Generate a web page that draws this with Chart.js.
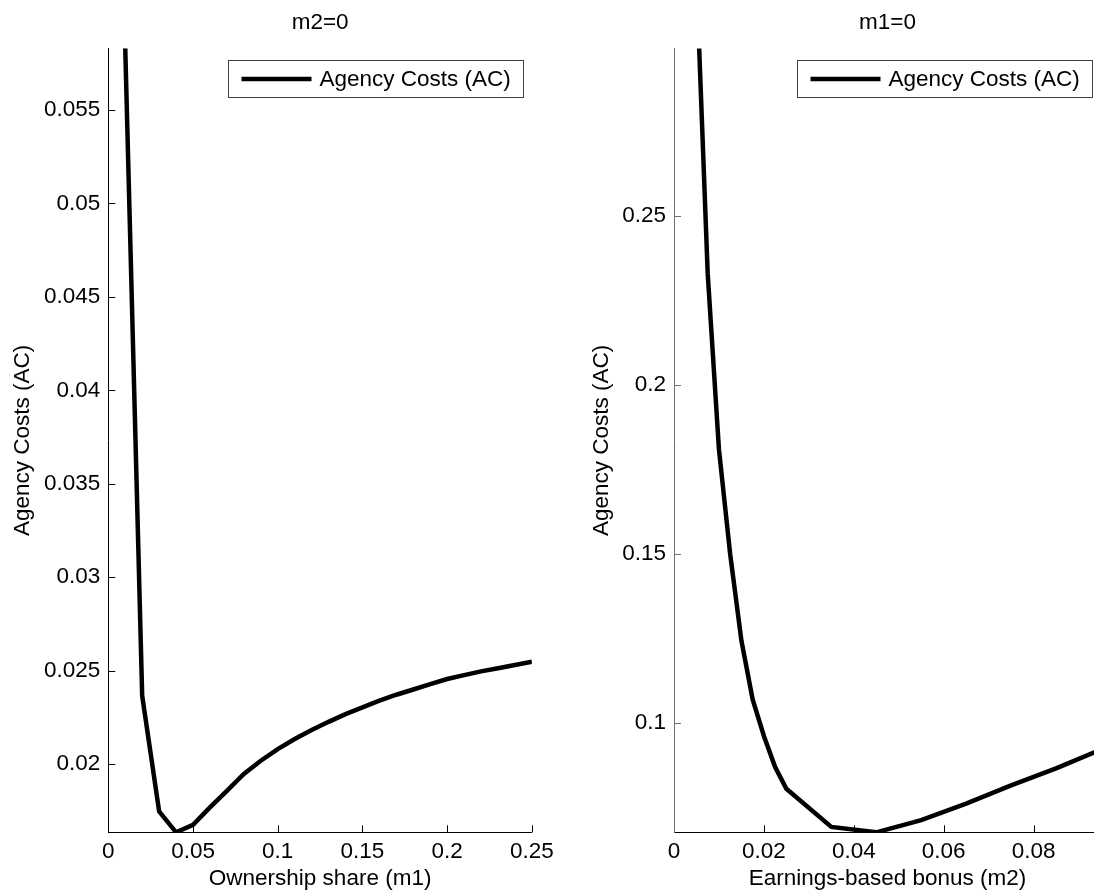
<!DOCTYPE html>
<html>
<head>
<meta charset="utf-8">
<script src="https://cdn.jsdelivr.net/npm/chart.js@4.4.1/dist/chart.umd.min.js"></script>
<style>
  html, body { margin: 0; padding: 0; background: #fff; overflow: hidden; width: 1094px; height: 894px; }
  canvas { position: absolute; top: 0; }
  #left { left: 0; }
  #right { left: 560px; }
</style>
</head>
<body>
<canvas id="left" width="560" height="894"></canvas>
<canvas id="right" width="560" height="894"></canvas>
<script>
// Left panel (m2 = 0): agency costs against ownership share m1
const M1_VALUES = [0.01, 0.02, 0.03, 0.04, 0.05, 0.06, 0.07, 0.08, 0.09, 0.10,
                   0.11, 0.12, 0.13, 0.14, 0.15, 0.16, 0.17, 0.18, 0.19, 0.20,
                   0.21, 0.22, 0.23, 0.24, 0.25];
const AC_BY_M1 = [0.0583, 0.02365, 0.01747, 0.01635, 0.01675, 0.01768, 0.01857, 0.01947, 0.02018, 0.0208,
                  0.02134, 0.02182, 0.02226, 0.02267, 0.02303, 0.02339, 0.02371, 0.02399, 0.02428, 0.02455,
                  0.02476, 0.02496, 0.02513, 0.0253, 0.02548];
const M1_TICKS = [0, 0.05, 0.1, 0.15, 0.2, 0.25];
const AC_M1_TICKS = [0.02, 0.025, 0.03, 0.035, 0.04, 0.045, 0.05, 0.055];

// Right panel (m1 = 0): agency costs against earnings-based bonus m2
const M2_VALUES = [0.0056, 0.0075, 0.01, 0.0125, 0.015, 0.0175, 0.02, 0.0225, 0.025,
                   0.035, 0.045, 0.055, 0.065, 0.075, 0.085, 0.095];
const AC_BY_M2 = [0.2997, 0.233, 0.181, 0.150, 0.1244, 0.107, 0.0962, 0.087, 0.0806,
                  0.0693, 0.0677, 0.0713, 0.0762, 0.0816, 0.0866, 0.0922];
const M2_TICKS = [0, 0.02, 0.04, 0.06, 0.08];
const AC_M2_TICKS = [0.1, 0.15, 0.2, 0.25];

const SERIES_LABEL = 'Agency Costs (AC)';
const FONT = { family: "'Liberation Sans', Arial, Helvetica, sans-serif", size: 22.5, weight: 'normal' };

Chart.defaults.font.family = FONT.family;
Chart.defaults.color = '#000';

const fmt = v => String(+Number(v).toFixed(4));

// MATLAB-style inward ticks and a boxed legend in the upper right corner
const matlabAxes = {
  id: 'matlabAxes',
  afterDatasetsDraw(chart, args, opts) {
    const { ctx, chartArea: a, scales: { x, y } } = chart;
    ctx.save();
    ctx.lineWidth = 1;

    ctx.strokeStyle = '#000';
    x.ticks.forEach(t => {
      const px = Math.round(x.getPixelForValue(t.value)) + 0.5;
      if (px - a.left < 3) return;
      ctx.beginPath();
      ctx.moveTo(px, a.bottom);
      ctx.lineTo(px, a.bottom - 7);
      ctx.stroke();
    });

    ctx.strokeStyle = opts.yColor;
    y.ticks.forEach(t => {
      const py = Math.round(y.getPixelForValue(t.value)) + 0.5;
      ctx.beginPath();
      ctx.moveTo(a.left, py);
      ctx.lineTo(a.left + 7, py);
      ctx.stroke();
    });

    // legend box
    const w = 295, h = 37;
    const bx = Math.round(a.right - 9 - w) + 0.5, by = 60.5;
    ctx.fillStyle = '#fff';
    ctx.fillRect(bx, by, w, h);
    ctx.strokeStyle = '#404040';
    ctx.strokeRect(bx, by, w, h);
    const ds = chart.data.datasets[0];
    ctx.strokeStyle = ds.borderColor;
    ctx.lineWidth = ds.borderWidth;
    ctx.beginPath();
    ctx.moveTo(bx + 13, by + h / 2);
    ctx.lineTo(bx + 83, by + h / 2);
    ctx.stroke();
    ctx.fillStyle = '#000';
    ctx.font = `${FONT.size}px ${FONT.family}`;
    ctx.textBaseline = 'middle';
    ctx.textAlign = 'left';
    ctx.fillText(ds.label, bx + 91, by + h / 2 + 1);
    ctx.restore();
  }
};

function makePanel(id, p) {
  const points = p.xs.map((v, i) => ({ x: v, y: p.ys[i] }));
  return new Chart(document.getElementById(id), {
    type: 'line',
    data: {
      datasets: [{
        label: SERIES_LABEL,
        data: points,
        borderColor: '#000',
        borderWidth: 4.5,
        pointRadius: 0,
        tension: 0,
        fill: false
      }]
    },
    options: {
      responsive: false,
      animation: false,
      events: [],
      layout: { padding: { left: 0, right: p.padRight, top: 0, bottom: 0 } },
      plugins: {
        legend: { display: false },
        tooltip: { enabled: false },
        title: {
          display: true,
          text: p.title,
          fullSize: false,
          color: '#000',
          font: FONT,
          padding: { top: 9.5, bottom: 11.8 }
        },
        matlabAxes: { yColor: p.yColor }
      },
      scales: {
        x: {
          type: 'linear',
          min: p.xMin,
          max: p.xMax,
          grid: { display: false, drawTicks: false },
          border: { display: true, color: '#000', width: 1 },
          ticks: { color: '#000', padding: 6.2, font: FONT, autoSkip: false, maxRotation: 0, callback: fmt },
          afterBuildTicks: s => { s.ticks = p.xTicks.map(v => ({ value: v })); },
          afterFit: s => { s.height = 61.7; },
          title: { display: true, text: p.xTitle, color: '#000', font: FONT, padding: { top: 0, bottom: 1.7 } }
        },
        y: {
          type: 'linear',
          min: p.yMin,
          max: p.yMax,
          grid: { display: false, drawTicks: false },
          border: { display: true, color: p.yColor, width: 1 },
          ticks: { color: '#000', padding: 8, font: FONT, autoSkip: false, callback: fmt },
          afterBuildTicks: s => { s.ticks = p.yTicks.map(v => ({ value: v })); },
          afterFit: s => { s.width = p.yWidth; },
          title: { display: true, text: SERIES_LABEL, color: '#000', font: FONT, padding: { top: p.yTitlePad, bottom: 0 } }
        }
      }
    },
    plugins: [matlabAxes]
  });
}

makePanel('left', {
  title: 'm2=0',
  xTitle: 'Ownership share (m1)',
  xs: M1_VALUES, ys: AC_BY_M1,
  xTicks: M1_TICKS, yTicks: AC_M1_TICKS,
  xMin: 0, xMax: 0.25, yMin: 0.01635, yMax: 0.0583,
  yWidth: 108.3, padRight: 23.7, yTitlePad: 9.5, yColor: '#000'
});

makePanel('right', {
  title: 'm1=0',
  xTitle: 'Earnings-based bonus (m2)',
  xs: M2_VALUES, ys: AC_BY_M2,
  xTicks: M2_TICKS, yTicks: AC_M2_TICKS,
  xMin: 0, xMax: 0.095, yMin: 0.0677, yMax: 0.2997,
  yWidth: 114, padRight: 19, yTitlePad: 28.5, yColor: '#707070'
});
</script>
</body>
</html>
